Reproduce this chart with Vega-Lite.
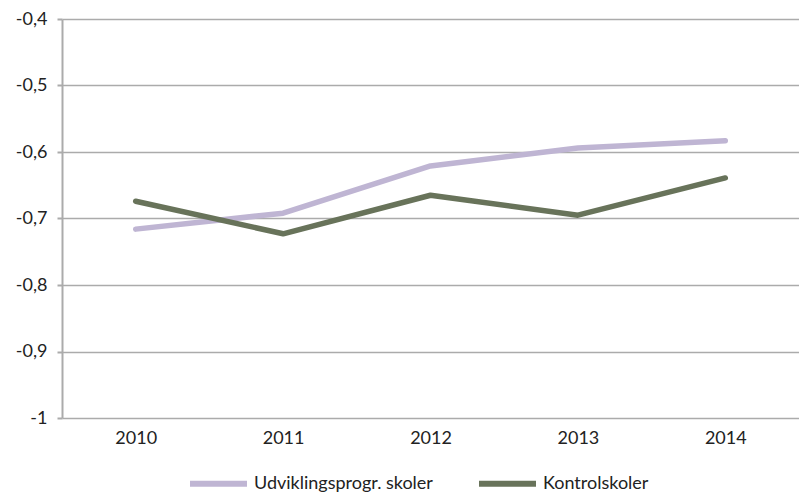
{
  "$schema": "https://vega.github.io/schema/vega-lite/v6.json",
  "width": 737,
  "height": 399,
  "autosize": {"type": "none"},
  "padding": {"left": 62, "top": 19, "right": 0, "bottom": 77},
  "background": "white",
  "data": {"values": [
    {"year": "2010", "serie": "Udviklingsprogr. skoler", "value": -0.716},
    {"year": "2011", "serie": "Udviklingsprogr. skoler", "value": -0.692},
    {"year": "2012", "serie": "Udviklingsprogr. skoler", "value": -0.621},
    {"year": "2013", "serie": "Udviklingsprogr. skoler", "value": -0.594},
    {"year": "2014", "serie": "Udviklingsprogr. skoler", "value": -0.583},
    {"year": "2010", "serie": "Kontrolskoler", "value": -0.674},
    {"year": "2011", "serie": "Kontrolskoler", "value": -0.723},
    {"year": "2012", "serie": "Kontrolskoler", "value": -0.665},
    {"year": "2013", "serie": "Kontrolskoler", "value": -0.695},
    {"year": "2014", "serie": "Kontrolskoler", "value": -0.639}
  ]},
  "mark": {"type": "line", "strokeWidth": 5.5, "strokeCap": "round", "strokeJoin": "round"},
  "encoding": {
    "x": {"field": "year", "type": "ordinal", "scale": {"type": "point", "padding": 0.5},
      "axis": {"title": null, "labelAngle": 0, "domain": false, "ticks": false, "grid": false, "labelPadding": 11}},
    "y": {"field": "value", "type": "quantitative",
      "scale": {"domain": [-1, -0.4], "nice": false, "zero": false},
      "axis": {"title": null, "values": [-1, -0.9, -0.8, -0.7, -0.6, -0.5, -0.4],
        "labelExpr": "replace(replace(format(datum.value, '.1~f'), '.', ','), '\u2212', '-')",
        "domain": true, "domainColor": "#ababab", "domainWidth": 2,
        "ticks": true, "tickSize": 5, "tickColor": "#ababab", "tickWidth": 2,
        "grid": true, "gridColor": "#ababab", "gridWidth": 1.5, "labelPadding": 10}},
    "color": {"field": "serie", "type": "nominal",
      "scale": {"domain": ["Udviklingsprogr. skoler", "Kontrolskoler"], "range": ["#bfb5d3", "#68735a"]},
      "legend": {"title": null, "orient": "none", "legendX": 125, "legendY": 433, "direction": "horizontal", "symbolType": "stroke",
        "symbolSize": 3249, "symbolStrokeWidth": 6, "columnPadding": 34, "labelFontSize": 18, "labelLimit": 400,
        "labelColor": "#222", "labelOffset": 4}}
  },
  "config": {
    "view": {"stroke": null},
    "font": "Lato",
    "axis": {"labelFontSize": 18, "labelColor": "#222", "labelFont": "Lato"},
    "legend": {"labelFont": "Lato"}
  }
}
